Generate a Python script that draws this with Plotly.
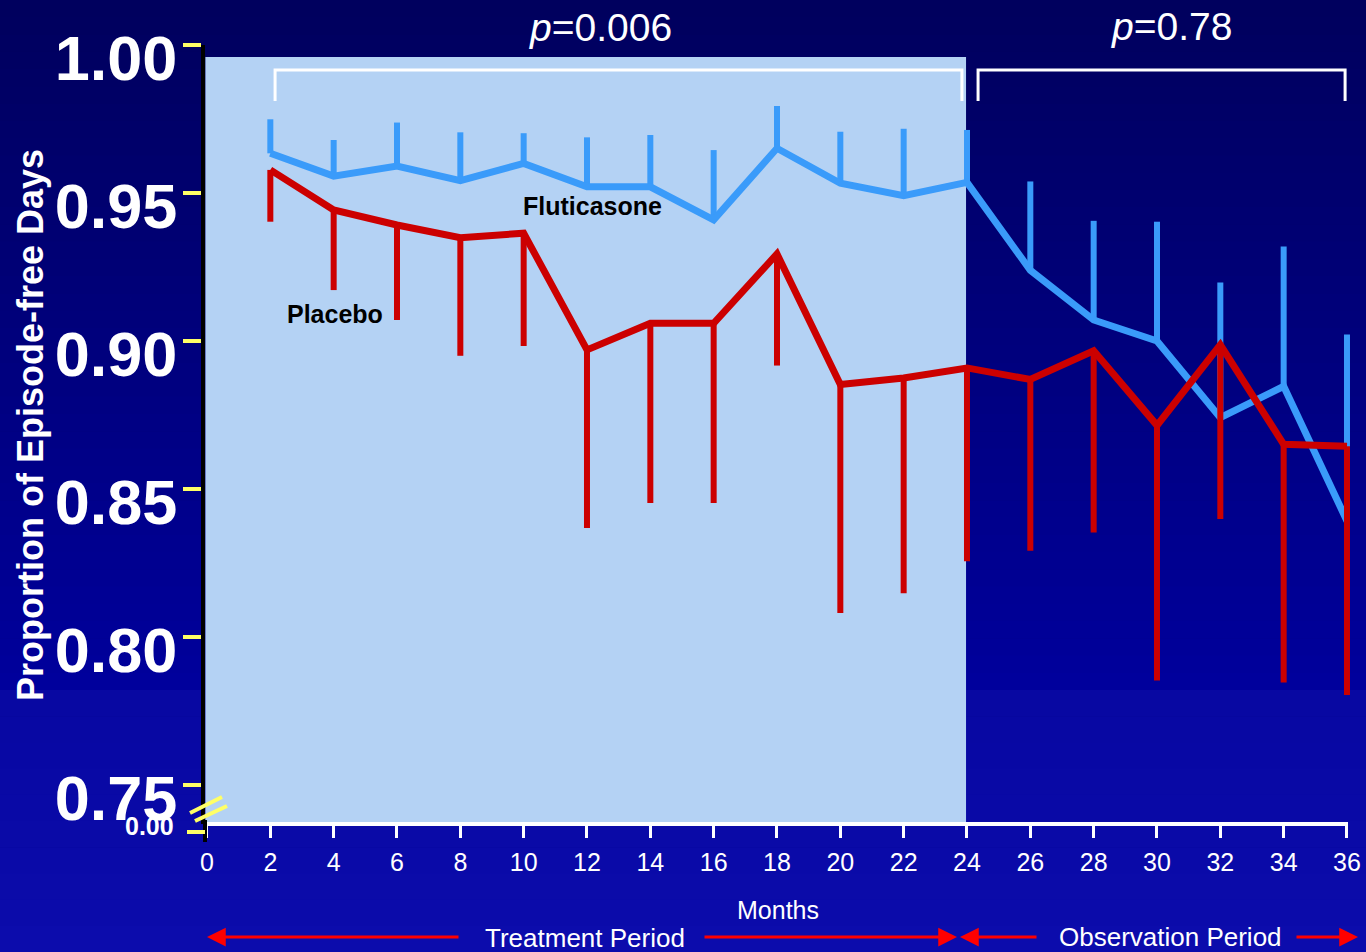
import plotly.graph_objects as go

# ---------------- data ----------------
months = [2, 4, 6, 8, 10, 12, 14, 16, 18, 20, 22, 24, 26, 28, 30, 32, 34, 36]
flut_mean = [0.9634, 0.9557, 0.9591, 0.9542, 0.9600, 0.9521, 0.9521, 0.9409, 0.9651,
             0.9533, 0.9491, 0.9536, 0.9239, 0.9071, 0.9000, 0.8741, 0.8847, 0.8392]
flut_upper = [0.9749, 0.9679, 0.9738, 0.9705, 0.9702, 0.9688, 0.9696, 0.9645, 0.9794,
              0.9707, 0.9717, 0.9713, 0.9539, 0.9406, 0.9403, 0.9198, 0.9319, 0.9022]
plac_mean = [0.9578, 0.9443, 0.9392, 0.9349, 0.9364, 0.8970, 0.9060, 0.9060, 0.9294,
             0.8853, 0.8875, 0.8909, 0.8870, 0.8967, 0.8715, 0.8987, 0.8651, 0.8644]
plac_lower = [0.9403, 0.9172, 0.9071, 0.8950, 0.8983, 0.8368, 0.8453, 0.8453, 0.8917,
              0.8081, 0.8148, 0.8256, 0.8291, 0.8353, 0.7853, 0.8399, 0.7846, 0.7804]

x_ticks = [0, 2, 4, 6, 8, 10, 12, 14, 16, 18, 20, 22, 24, 26, 28, 30, 32, 34, 36]
y_ticks = [0.75, 0.80, 0.85, 0.90, 0.95, 1.00]
y_tick_text = ["0.75", "0.80", "0.85", "0.90", "0.95", "1.00"]
periods = ["Treatment Period", "Observation Period"]
p_values = ["<i>p</i>=0.006", "<i>p</i>=0.78"]

flut_err = [u - m for u, m in zip(flut_upper, flut_mean)]
plac_err = [m - l for m, l in zip(plac_mean, plac_lower)]

# ---------------- layout geometry ----------------
W, H = 1366, 952
L, R, T, B = 205, 4, 45, 128
PW, PH = W - L - R, H - T - B
Y_MIN, Y_MAX = 0.73682, 1.0
X_MIN, X_MAX = -0.063, 36.474

FONT = "Liberation Sans, Arial, sans-serif"
BLUE = "#3A9BFA"
RED = "#CC0000"
YEL = "#FFFF66"


def px(xp):
    return (xp - L) / PW


def py(yp):
    return (T + PH - yp) / PH


fig = go.Figure()

fig.add_trace(go.Scatter(
    x=months, y=flut_mean, mode="lines", name="Fluticasone",
    line=dict(color=BLUE, width=7),
    error_y=dict(type="data", symmetric=False, array=flut_err,
                 arrayminus=[0] * len(months), color=BLUE, thickness=6, width=0),
    showlegend=False))
fig.add_trace(go.Scatter(
    x=months, y=plac_mean, mode="lines", name="Placebo",
    line=dict(color=RED, width=7),
    error_y=dict(type="data", symmetric=False, array=[0] * len(months),
                 arrayminus=plac_err, color=RED, thickness=6, width=0),
    showlegend=False))

shapes = []
# background gradient
n1 = 40
for i in range(n1):
    y0p = 690 * i / n1
    y1p = 690 * (i + 1) / n1 + 0.5
    t = i / (n1 - 1)
    c = (0, 0, int(94 + t * (156 - 94)))
    shapes.append(dict(type="rect", xref="paper", yref="paper", layer="below",
                       x0=px(0), x1=px(W), y0=py(y1p), y1=py(y0p),
                       fillcolor="rgb(%d,%d,%d)" % c, line=dict(width=0)))
n2 = 10
for i in range(n2):
    y0p = 690 + (H - 690) * i / n2
    y1p = 690 + (H - 690) * (i + 1) / n2 + 0.5
    t = i / (n2 - 1)
    c = (int(8 + 4 * t), int(8 + 4 * t), int(162 + 10 * t))
    shapes.append(dict(type="rect", xref="paper", yref="paper", layer="below",
                       x0=px(0), x1=px(W), y0=py(y1p), y1=py(y0p),
                       fillcolor="rgb(%d,%d,%d)" % c, line=dict(width=0)))

# treatment period light box
shapes.append(dict(type="rect", xref="x", yref="y", layer="below",
                   x0=-0.05, x1=23.97, y0=Y_MIN, y1=0.99595,
                   fillcolor="#B4D2F4", line=dict(width=0)))

# brackets
for (xa, xb) in [(2.15, 23.84), (24.35, 35.94)]:
    shapes.append(dict(type="path", xref="x", yref="y",
                       path="M %f,%f L %f,%f L %f,%f L %f,%f" % (xa, 0.98108, xa, 0.99155,
                                                                  xb, 0.99155, xb, 0.98108),
                       line=dict(color="white", width=3)))

# x axis line
shapes.append(dict(type="line", xref="paper", yref="paper",
                   x0=px(206), x1=px(1348), y0=py(824), y1=py(824),
                   line=dict(color="white", width=4)))
# y axis black line extension below axis
shapes.append(dict(type="line", xref="paper", yref="paper",
                   x0=px(205), x1=px(205), y0=py(842), y1=py(820),
                   line=dict(color="black", width=4)))
# 0.00 tick
shapes.append(dict(type="line", xref="paper", yref="paper",
                   x0=px(187), x1=px(205), y0=py(832), y1=py(832),
                   line=dict(color=YEL, width=4)))
# axis break marks
for (a, b, c_, d) in [(190, 813, 222, 797), (195, 821, 227, 806)]:
    shapes.append(dict(type="line", xref="paper", yref="paper",
                       x0=px(a), y0=py(b), x1=px(c_), y1=py(d),
                       line=dict(color=YEL, width=4)))

annotations = []
annotations.append(dict(text="0.00", xref="paper", yref="paper", x=px(176), y=py(826),
                        xanchor="right", yanchor="middle", showarrow=False,
                        font=dict(family=FONT, size=25, color="white", weight="bold")))
annotations.append(dict(text="Proportion of Episode-free Days", xref="paper", yref="paper",
                        x=px(30), y=py(425), textangle=-90, showarrow=False,
                        xanchor="center", yanchor="middle",
                        font=dict(family=FONT, size=36, color="white", weight="bold")))
annotations.append(dict(text=p_values[0], xref="paper", yref="paper", x=px(600), y=py(28),
                        showarrow=False, xanchor="center", yanchor="middle",
                        font=dict(family=FONT, size=39, color="white")))
annotations.append(dict(text=p_values[1], xref="paper", yref="paper", x=px(1171), y=py(27),
                        showarrow=False, xanchor="center", yanchor="middle",
                        font=dict(family=FONT, size=39, color="white")))
annotations.append(dict(text="Fluticasone", xref="paper", yref="paper", x=px(592), y=py(206),
                        showarrow=False, xanchor="center", yanchor="middle",
                        font=dict(family=FONT, size=25, color="black", weight="bold")))
annotations.append(dict(text="Placebo", xref="paper", yref="paper", x=px(335), y=py(314),
                        showarrow=False, xanchor="center", yanchor="middle",
                        font=dict(family=FONT, size=25, color="black", weight="bold")))
annotations.append(dict(text="Months", xref="paper", yref="paper", x=px(778), y=py(910),
                        showarrow=False, xanchor="center", yanchor="middle",
                        font=dict(family=FONT, size=25, color="white")))
annotations.append(dict(text=periods[0], xref="paper", yref="paper", x=px(585), y=py(938),
                        showarrow=False, xanchor="center", yanchor="middle",
                        font=dict(family=FONT, size=26, color="white")))
annotations.append(dict(text=periods[1], xref="paper", yref="paper", x=px(1170), y=py(937),
                        showarrow=False, xanchor="center", yanchor="middle",
                        font=dict(family=FONT, size=26, color="white")))
# red arrows (head x, tail x)
for (hx, tx) in [(207, 460), (957, 703), (960, 1038), (1358, 1295)]:
    annotations.append(dict(text="", xref="paper", yref="paper", x=px(hx), y=py(937),
                            ax=tx - hx, ay=0, showarrow=True, arrowhead=2,
                            arrowsize=1.25, arrowwidth=3, arrowcolor="#FF0000", standoff=0))

fig.update_layout(
    width=W, height=H,
    margin=dict(l=L, r=R, t=T, b=B, autoexpand=False),
    paper_bgcolor="#00006A",
    plot_bgcolor="rgba(0,0,0,0)",
    shapes=shapes,
    annotations=annotations,
    xaxis=dict(range=[X_MIN, X_MAX], tickmode="array", tickvals=x_ticks,
               ticktext=[str(v) for v in x_ticks], showgrid=False, zeroline=False,
               showline=False, ticks="outside", ticklen=13, tickwidth=3,
               tickcolor="white", tickfont=dict(family=FONT, size=25, color="white"),
               ticklabelstandoff=3, fixedrange=True),
    yaxis=dict(range=[Y_MIN, Y_MAX], tickmode="array", tickvals=y_ticks,
               ticktext=y_tick_text, showgrid=False, zeroline=False,
               showline=True, linecolor="black", linewidth=4,
               ticks="outside", ticklen=18, tickwidth=4, tickcolor=YEL,
               ticklabelstandoff=-7, ticklabelshift=13,
               tickfont=dict(family=FONT, size=63, color="white", weight="bold"),
               fixedrange=True),
)

fig.write_html("out.html", config={"displayModeBar": False},
               post_script="document.body.style.margin='0';document.body.style.overflow='hidden';")
